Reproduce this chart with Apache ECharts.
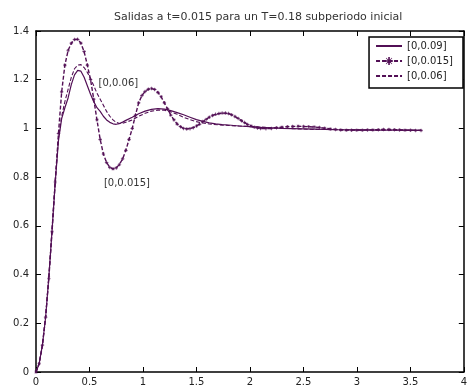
<!DOCTYPE html>
<html>
<head>
<meta charset="utf-8">
<script src="https://cdn.jsdelivr.net/npm/echarts@6/dist/echarts.min.js"></script>
<style>
  html, body { margin: 0; padding: 0; background: #fff; }
  #chart { width: 470px; height: 392px; }
</style>
</head>
<body>
<div id="chart"></div>
<script>
// ---- datos ----
const titleText = 'Salidas a t=0.015 para un T=0.18 subperiodo inicial';
const seriesNames = ['[0,0.09]', '[0,0.015]', '[0,0.06]'];

// [0,0.09] (linea continua)
const t1 = [0, 0.03, 0.06, 0.09, 0.12, 0.15, 0.18, 0.21, 0.24, 0.27, 0.30, 0.33, 0.36, 0.39, 0.42, 0.45, 0.48, 0.51, 0.54, 0.57,
  0.60, 0.63, 0.66, 0.69, 0.72, 0.75, 0.78, 0.81, 0.84, 0.90, 0.96, 1.02, 1.08, 1.14, 1.20, 1.26, 1.32, 1.38, 1.44, 1.50,
  1.56, 1.62, 1.68, 1.74, 1.80, 1.90, 2.00, 2.10, 2.20, 2.30, 2.40, 2.50, 2.60, 2.80, 3.00, 3.20, 3.40, 3.60];
const y1 = [0, 0.035, 0.11, 0.225, 0.39, 0.58, 0.78, 0.95, 1.04, 1.085, 1.125, 1.18, 1.22, 1.238, 1.235, 1.21, 1.175, 1.14, 1.11, 1.085,
  1.07, 1.05, 1.035, 1.025, 1.019, 1.017, 1.02, 1.026, 1.033, 1.046, 1.06, 1.071, 1.078, 1.081, 1.079, 1.073, 1.065, 1.056, 1.046, 1.036,
  1.029, 1.023, 1.019, 1.016, 1.014, 1.01, 1.007, 1.004, 1.002, 1.0, 0.999, 0.998, 0.997, 0.995, 0.994, 0.993, 0.993, 0.992];

// [0,0.015] (discontinua con asteriscos)
const t2 = [0, 0.03, 0.06, 0.09, 0.12, 0.15, 0.18, 0.21, 0.24, 0.27, 0.30, 0.33, 0.36, 0.39, 0.42, 0.45, 0.48, 0.51, 0.54, 0.57,
  0.60, 0.63, 0.66, 0.69, 0.72, 0.75, 0.78, 0.81, 0.84, 0.87, 0.90, 0.93, 0.96, 0.99, 1.02, 1.05, 1.08, 1.11, 1.14, 1.17,
  1.20, 1.23, 1.26, 1.29, 1.32, 1.35, 1.38, 1.41, 1.44, 1.47, 1.50, 1.53, 1.56, 1.59, 1.62, 1.65, 1.68, 1.71, 1.74, 1.77,
  1.80, 1.83, 1.86, 1.89, 1.92, 1.95, 1.98, 2.01, 2.04, 2.07, 2.10,
  2.15, 2.20, 2.25, 2.30, 2.35, 2.40, 2.45, 2.50, 2.55, 2.60, 2.65, 2.70, 2.75, 2.80, 2.85, 2.90, 2.95, 3.00, 3.05, 3.10,
  3.15, 3.20, 3.25, 3.30, 3.35, 3.40, 3.45, 3.50, 3.55, 3.60];
const y2 = [0, 0.035, 0.11, 0.225, 0.385, 0.575, 0.78, 0.98, 1.15, 1.26, 1.32, 1.35, 1.365, 1.366, 1.35, 1.315, 1.26, 1.2, 1.12, 1.035,
  0.955, 0.895, 0.86, 0.84, 0.834, 0.838, 0.852, 0.875, 0.91, 0.955, 1.0, 1.055, 1.105, 1.135, 1.152, 1.161, 1.164, 1.16, 1.148, 1.13,
  1.105, 1.08, 1.055, 1.035, 1.018, 1.007, 1.0, 0.998, 0.999, 1.003, 1.01, 1.018, 1.028, 1.037, 1.046, 1.053, 1.058, 1.061, 1.063, 1.063,
  1.061, 1.056, 1.049, 1.041, 1.032, 1.024, 1.016, 1.01, 1.005, 1.002, 1.0,
  0.999, 1.0, 1.003, 1.005, 1.007, 1.008, 1.009, 1.008, 1.007, 1.006, 1.004, 1.001, 0.998, 0.996, 0.994, 0.993, 0.993, 0.993, 0.993, 0.994,
  0.994, 0.995, 0.996, 0.996, 0.995, 0.994, 0.993, 0.993, 0.992, 0.992];

// [0,0.06] (discontinua)
const t3 = [0, 0.03, 0.06, 0.09, 0.12, 0.15, 0.18, 0.21, 0.24, 0.27, 0.30, 0.33, 0.36, 0.39, 0.42, 0.45, 0.48, 0.51, 0.54, 0.57,
  0.60, 0.63, 0.66, 0.69, 0.72, 0.75, 0.78, 0.81, 0.84, 0.90, 0.96, 1.02, 1.08, 1.14, 1.20, 1.26, 1.32, 1.38, 1.44, 1.50,
  1.56, 1.62, 1.70, 1.80, 1.90, 2.00, 2.20, 2.40, 2.60, 2.80, 3.00, 3.20, 3.40, 3.60];
const y3 = [0, 0.035, 0.11, 0.23, 0.39, 0.59, 0.79, 0.96, 1.05, 1.11, 1.16, 1.21, 1.245, 1.26, 1.262, 1.25, 1.23, 1.205, 1.175, 1.145,
  1.12, 1.095, 1.07, 1.05, 1.035, 1.025, 1.02, 1.021, 1.025, 1.035, 1.05, 1.062, 1.071, 1.075, 1.075, 1.068, 1.058, 1.046, 1.036, 1.028,
  1.022, 1.018, 1.015, 1.012, 1.01, 1.008, 1.003, 0.999, 0.996, 0.995, 0.994, 0.993, 0.993, 0.992];

// etiquetas dentro del grafico [t, y]
const noteLabels = [
  { text: '[0,0.06]', at: [0.77, 1.186] },
  { text: '[0,0.015]', at: [0.85, 0.776] }
];

// ---- grafico ----
const chart = echarts.init(document.getElementById('chart'));
const lineColor = '#520f55';
const font = 'DejaVu Sans';
const star = 'path://M4,0h2v4h4v2h-4v4h-2v-4h-4v-2h4z M1,1.5L1.5,1L9,8.5L8.5,9Z M8.5,1L9,1.5L1.5,9L1,8.5Z';

const pairs = (ts, ys) => ts.map((t, i) => [t, ys[i]]);

const baseAxis = {
  type: 'value',
  axisLine: { show: true, onZero: false, lineStyle: { color: '#000', width: 1.5 } },
  axisTick: { show: true, inside: true, length: 5, lineStyle: { color: '#000' } },
  splitLine: { show: false },
  axisLabel: { color: '#222', fontFamily: font, fontSize: 10 }
};

const option = {
  animation: false,
  backgroundColor: '#fff',
  title: {
    text: titleText, left: 109, top: 7,
    textStyle: { fontFamily: font, fontSize: 11, fontWeight: 'normal', color: '#333' }
  },
  legend: {
    data: [
      { name: seriesNames[0], itemStyle: { opacity: 0 } },
      { name: seriesNames[1] },
      { name: seriesNames[2], itemStyle: { opacity: 0 } }
    ],
    orient: 'vertical', right: 7, top: 37,
    backgroundColor: '#fff', borderColor: '#000', borderWidth: 1.5, borderRadius: 0,
    padding: [4, 10, 7, 6], itemGap: 5, itemWidth: 26, itemHeight: 10,
    textStyle: { fontFamily: font, fontSize: 10, color: '#222' }
  },
  grid: { left: 36, right: 1, top: 31, bottom: 20 },
  xAxis: [
    Object.assign({}, baseAxis, {
      min: 0, max: 4, interval: 0.5,
      axisLabel: Object.assign({}, baseAxis.axisLabel, { margin: 5, showMaxLabel: true })
    }),
    Object.assign({}, baseAxis, { position: 'top', min: 0, max: 4, interval: 0.5, axisLabel: { show: false } })
  ],
  yAxis: [
    Object.assign({}, baseAxis, { min: 0, max: 1.4, interval: 0.2,
      axisLabel: Object.assign({}, baseAxis.axisLabel, { margin: 7 }) }),
    Object.assign({}, baseAxis, { position: 'right', min: 0, max: 1.4, interval: 0.2, axisLabel: { show: false } })
  ],
  series: [
    {
      name: seriesNames[0], type: 'line', data: pairs(t1, y1), showSymbol: false, symbol: 'none',
      lineStyle: { color: lineColor, width: 1.2 }, itemStyle: { color: lineColor },
      markPoint: {
        symbol: 'circle', symbolSize: 0, silent: true,
        label: { show: true, position: 'inside', formatter: p => p.name, color: '#333', fontFamily: font, fontSize: 10 },
        data: noteLabels.map(n => ({ name: n.text, coord: n.at }))
      }
    },
    {
      name: seriesNames[1], type: 'line', data: pairs(t2, y2), symbol: star, symbolSize: 3.5,
      lineStyle: { color: lineColor, width: 1.4, type: [4, 2] }, itemStyle: { color: lineColor }
    },
    {
      name: seriesNames[2], type: 'line', data: pairs(t3, y3), showSymbol: false, symbol: 'none',
      lineStyle: { color: lineColor, width: 1.1, type: [4, 2] }, itemStyle: { color: lineColor }
    }
  ]
};
chart.setOption(option);
</script>
</body>
</html>
